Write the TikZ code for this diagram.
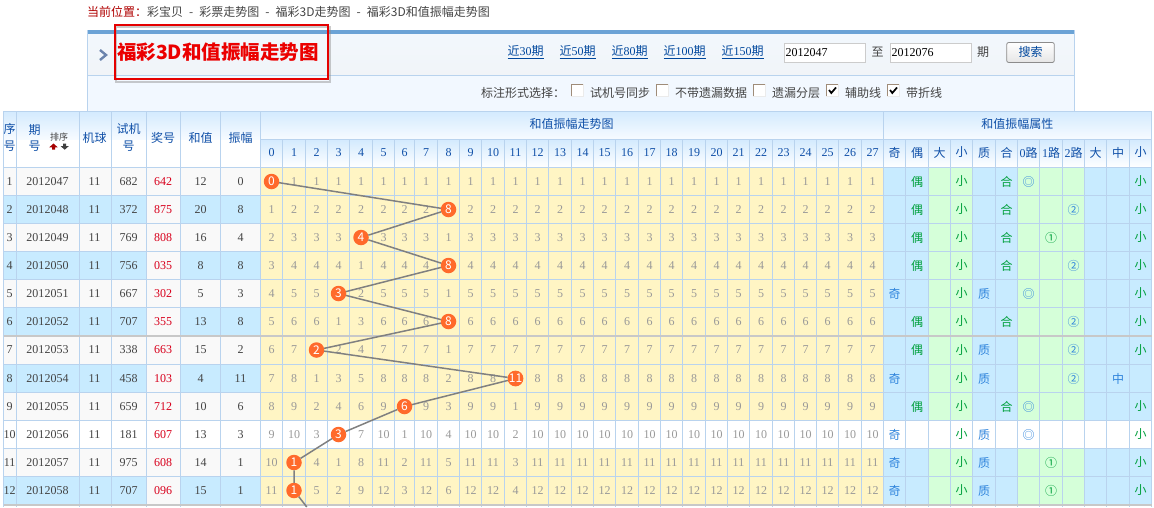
\documentclass[tikz,border=0pt]{standalone}
\usepackage{fontspec}
\setmainfont{Noto Sans CJK SC}
\newfontfamily\dg{Liberation Serif}
\definecolor{gridc}{HTML}{B9D3EE}
\definecolor{rowblue}{HTML}{C8EBFF}
\definecolor{rowgrey}{HTML}{F9F9F9}
\definecolor{attrgreen}{HTML}{D5FFD9}
\definecolor{cellyellow}{HTML}{FFF5C4}
\definecolor{headblue}{HTML}{1050A8}
\definecolor{linkblue}{HTML}{00479D}
\definecolor{txtgrey}{HTML}{444444}
\definecolor{numgrey}{HTML}{999999}
\definecolor{lotred}{HTML}{D8001C}
\definecolor{ballc}{HTML}{FF6A2B}
\definecolor{markblue}{HTML}{2F84DC}
\definecolor{markgreen}{HTML}{00A03C}
\definecolor{sepgrey}{HTML}{C8C8C8}
\definecolor{striptop}{HTML}{6BA3D6}
\definecolor{panela}{HTML}{F2F8FD}
\definecolor{panelb}{HTML}{F1F4F8}
\definecolor{panelc}{HTML}{F2F8FF}
\definecolor{heada}{HTML}{D3EAFE}
\definecolor{headb}{HTML}{F7FBFF}
\definecolor{chev}{HTML}{6B84AD}
\def\tx{{260.5,282.5,305.5,327.5,349.5,372.5,394.5,414.5,437.5,459.5,481.5,504.5,526.5,548.5,571.5,593.5,615.5,638.5,660.5,682.5,705.5,727.5,749.5,772.5,794.5,816.5,838.5,861.5,883.5}}
\def\ax{{883.5,905.5,928.5,950.5,972.5,995.5,1017.5,1039.5,1062.5,1084.5,1106.5,1129.5,1151.5}}
\def\ry{{167.5,195.5,223.5,251.5,279.5,307.5,335.5,364.5,392.5,420.5,448.5,476.5,504.5}}
% #1 = array, #2 = lower index, #3 = result macro: midpoint of entries #2 and #2+1
\newcommand{\midpt}[3]{%
  \pgfmathtruncatemacro\midn{#2+1}%
  \pgfmathsetmacro\mida{#1[#2]}%
  \pgfmathsetmacro\midb{#1[\midn]}%
  \pgfmathsetmacro#3{(\mida+\midb)/2}%
}
\def\attrtext#1{\ifcase#1 奇\or 偶\or\or 小\or 质\or 合\or ◎\or ①\or ②\or\or 中\or 小\fi}
\def\attrcol#1{\ifcase#1 markblue\or markgreen\or black\or markgreen\or markblue\or markgreen\or markblue\or markgreen\or markblue\or black\or markblue\or markgreen\fi}
\newcommand{\sepdash}{\hspace{6.1pt}-\hspace{6.1pt}}
\tikzset{
  x=1pt,y=-1pt,
  txt/.style={inner sep=0pt,outer sep=0pt,font=\fontsize{12}{12}\selectfont,text=txtgrey},
  head/.style={txt,text=headblue},
  num/.style={inner sep=0pt,outer sep=0pt,font=\dg\fontsize{12}{12}\selectfont,text=txtgrey},
  trendnum/.style={num,text=numgrey},
  link/.style={txt,text=linkblue,anchor=west},
  ball/.style={circle,fill=ballc,text=white,minimum size=15.5pt,inner sep=0pt,outer sep=0pt,font=\fontsize{12}{12}\selectfont},
  conn/.style={draw=black!50,line width=1.5pt},
  grid/.style={draw=gridc,line width=1pt},
}
\newcommand{\chk}[3]{% x, y, checked
  \fill[white] (#1,#2) rectangle ++(12,12);
  \draw[color=black!50!brown!60,line width=1.2pt] (#1+.5,#2+12) -- (#1+.5,#2+.5) -- (#1+12,#2+.5);
  \draw[color=black!8,line width=.8pt] (#1+12.5,#2) -- (#1+12.5,#2+12.5) -- (#1,#2+12.5);
  \ifnum#3=1 \draw[black,line width=1.7pt] (#1+3,#2+6) -- (#1+5.3,#2+9) -- (#1+10,#2+3.5);\fi
}
\begin{document}
\begin{tikzpicture}
\useasboundingbox (0,0) rectangle (1154,507);
\fill[white] (0,0) rectangle (1154,507);
% breadcrumb
\node[txt,anchor=west] (crumb) at (87,12) {\textcolor[HTML]{B00000}{当前位置：}彩宝贝\sepdash 彩票走势图\sepdash 福彩3D走势图\sepdash 福彩3D和值振幅走势图};
% top panel
\fill[top color=panela,bottom color=panelb] (87.5,34) rectangle (1074.5,75);
\fill[color=panelc] (87.5,75) rectangle (1074.5,111);
\fill[color=striptop] (87.5,30) rectangle (1074.5,34);
\draw[grid] (87.5,111) -- (87.5,30) (1074.5,30) -- (1074.5,111) (87.5,75.5) -- (1074.5,75.5);
\draw[color=chev,line width=2.4pt] (100,50) -- (106,55) -- (100,60);
% links
\node[link] (l30) at (507.7,52) {\underline{近{\dg 30}期}};
\node[link] (l50) at (559.7,52) {\underline{近{\dg 50}期}};
\node[link] (l80) at (611.7,52) {\underline{近{\dg 80}期}};
\node[link] (l100) at (663.7,52) {\underline{近{\dg 100}期}};
\node[link] (l150) at (721.7,52) {\underline{近{\dg 150}期}};
% inputs
\draw[draw=black!20,fill=white,line width=1pt] (784.5,43.5) rectangle (865.5,62);
\node[num,text=black,anchor=west] (from) at (785.5,52.5) {2012047};
\node[txt] (zhi) at (877.5,52) {至};
\draw[draw=black!20,fill=white,line width=1pt] (890.5,43.5) rectangle (971.5,62);
\node[num,text=black,anchor=west] (to) at (891.5,52.5) {2012076};
\node[txt] (qi) at (983,52) {期};
\draw[draw=black!45,top color=white,bottom color=black!10,line width=.8pt,rounded corners=2pt] (1006.7,42.5) rectangle (1054.3,62.5);
\node[txt,text=linkblue] (sea) at (1030.5,52) {搜索};
% option row
\node[txt,anchor=west] (optl) at (481,93) {标注形式选择：};
\chk{571}{84}{0}\node[txt,anchor=west] (o1) at (590,93) {试机号同步};
\chk{656}{84}{0}\node[txt,anchor=west] (o2) at (675,93) {不带遗漏数据};
\chk{753}{84}{0}\node[txt,anchor=west] (o3) at (772,93) {遗漏分层};
\chk{826}{84}{1}\node[txt,anchor=west] (o4) at (845,93) {辅助线};
\chk{887}{84}{1}\node[txt,anchor=west] (o5) at (906,93) {带折线};
% red title frame
\draw[color=black!45,line width=2pt,opacity=.45] (116,27) -- (329.5,27) -- (329.5,81.5) -- (116,81.5) -- cycle;
\draw[color=red!90!black,line width=2pt] (114.7,25.3) rectangle (327.5,79);
\node[txt,anchor=west,text=red!92!black,font=\bfseries\fontsize{19.5}{20}\selectfont] (title) at (117,52.3) {福彩3D和值振幅走势图};
% header fills
\fill[top color=heada,bottom color=headb] (3.5,111) rectangle (1151.5,139.5);
\fill[white] (3.5,139.5) rectangle (260.5,167.5);
\fill[top color=heada,bottom color=white] (260.5,139.5) rectangle (1151.5,167.5);
% row fills
\foreach \r/\lc/\tc/\ab/\ag/\zc in {0/rowgrey/cellyellow/rowblue/attrgreen/rowgrey,1/rowblue/cellyellow/rowblue/attrgreen/rowgrey,2/rowgrey/cellyellow/rowblue/attrgreen/rowgrey,3/rowblue/cellyellow/rowblue/attrgreen/rowgrey,4/rowgrey/cellyellow/rowblue/attrgreen/rowgrey,5/rowblue/cellyellow/rowblue/attrgreen/rowgrey,6/rowgrey/cellyellow/rowblue/attrgreen/rowgrey,7/rowblue/cellyellow/rowblue/attrgreen/rowgrey,8/rowgrey/cellyellow/rowblue/attrgreen/rowgrey,9/white/white/white/white/white,10/rowgrey/cellyellow/rowblue/attrgreen/rowgrey,11/rowblue/cellyellow/rowblue/attrgreen/rowgrey}{
  \pgfmathtruncatemacro\rn{\r+1}
  \pgfmathsetmacro\ya{\ry[\r]}
  \pgfmathsetmacro\yb{\ry[\rn]}
  \fill[color=\lc] (3.5,\ya) rectangle (260.5,\yb);
  \fill[color=\zc] (146.5,\ya) rectangle (180.5,\yb);
  \fill[color=\tc] (260.5,\ya) rectangle (883.5,\yb);
  \fill[color=\ab] (883.5,\ya) rectangle (928.5,\yb);
  \fill[color=\ag] (928.5,\ya) rectangle (972.5,\yb);
  \fill[color=\ab] (972.5,\ya) rectangle (1017.5,\yb);
  \fill[color=\ag] (1017.5,\ya) rectangle (1084.5,\yb);
  \fill[color=\ab] (1084.5,\ya) rectangle (1151.5,\yb);
}
% grid
\foreach \yy in {111,167.5,195.5,223.5,251.5,279.5,307.5,364.5,392.5,420.5,448.5,476.5}
  \draw[grid] (3.5,\yy) -- (1151.5,\yy);
\draw[grid] (260.5,139.5) -- (1151.5,139.5);
\foreach \xx in {3.5,16.5,79.5,111.5,146.5,180.5,220.5,260.5,883.5,1151.5}
  \draw[grid] (\xx,111) -- (\xx,507);
\foreach \i in {1,...,27}{
  \pgfmathsetmacro\xx{\tx[\i]}
  \draw[grid] (\xx,139.5) -- (\xx,507);
}
\foreach \i in {1,...,11}{
  \pgfmathsetmacro\xx{\ax[\i]}
  \draw[grid] (\xx,139.5) -- (\xx,507);
}
\draw[color=sepgrey,line width=2pt] (3.5,335.5) -- (1151.5,335.5) (3.5,505.2) -- (1151.5,505.2);
% header texts
\node[head] (h1a) at (9.7,129) {序};
\node[head] (h1b) at (9.7,146) {号};
\node[head] (h2a) at (34.5,130) {期};
\node[head] (h2b) at (34.5,146.5) {号};
\node[txt,font=\fontsize{9}{9}\selectfont] (sort) at (59,137) {排序};
\fill[color=red!65!black] (53.5,143.5) -- (57.7,147.3) -- (55,147.3) -- (55,149.5) -- (52,149.5) -- (52,147.3) -- (49.3,147.3) -- cycle;
\fill[color=black!75] (64.7,149.7) -- (60.5,146) -- (63.2,146) -- (63.2,143.7) -- (66.2,143.7) -- (66.2,146) -- (68.9,146) -- cycle;
\node[head] (h3) at (94.5,138) {机球};
\node[head] (h4a) at (128.5,129) {试机};
\node[head] (h4b) at (128.5,146.5) {号};
\node[head] (h5) at (163,138) {奖号};
\node[head] (h6) at (200.5,138) {和值};
\node[head] (h7) at (240.5,138) {振幅};
\node[head] (h8) at (571.7,124) {和值振幅走势图};
\node[head] (h9) at (1017.3,124) {和值振幅属性};
\foreach \i in {0,...,27}{
  \midpt{\tx}{\i}{\xc}
  \node[num,text=headblue] (t\i) at (\xc,152.5) {\i};
}
\foreach \i/\s in {0/奇,1/偶,2/大,3/小,4/质,5/合,6/{{\dg 0}路},7/{{\dg 1}路},8/{{\dg 2}路},9/大,10/中,11/小}{
  \midpt{\ax}{\i}{\xc}
  \node[head] (at\i) at (\xc,152.5) {\s};
}
% left columns
\foreach \r/\p/\q/\z/\he/\zf in {1/2012047/682/642/12/0,2/2012048/372/875/20/8,3/2012049/769/808/16/4,4/2012050/756/035/8/8,5/2012051/667/302/5/3,6/2012052/707/355/13/8,7/2012053/338/663/15/2,8/2012054/458/103/4/11,9/2012055/659/712/10/6,10/2012056/181/607/13/3,11/2012057/975/608/14/1,12/2012058/707/096/15/1}{
  \pgfmathtruncatemacro\rp{\r-1}
  \midpt{\ry}{\rp}{\yc}
  \node[num] (n\r) at (9.7,\yc) {\r};
  \node[num] (p\r) at (47.5,\yc) {\p};
  \node[num] (m\r) at (94.5,\yc) {11};
  \node[num] (q\r) at (128.5,\yc) {\q};
  \node[num,text=lotred] (z\r) at (163,\yc) {\z};
  \node[num] (s\r) at (200.5,\yc) {\he};
  \node[num] (f\r) at (240.5,\yc) {\zf};
}
% trend numbers (99 = ball cell)
\foreach \r/\lst in {
1/{99,1,1,1,1,1,1,1,1,1,1,1,1,1,1,1,1,1,1,1,1,1,1,1,1,1,1,1},
2/{1,2,2,2,2,2,2,2,99,2,2,2,2,2,2,2,2,2,2,2,2,2,2,2,2,2,2,2},
3/{2,3,3,3,99,3,3,3,1,3,3,3,3,3,3,3,3,3,3,3,3,3,3,3,3,3,3,3},
4/{3,4,4,4,1,4,4,4,99,4,4,4,4,4,4,4,4,4,4,4,4,4,4,4,4,4,4,4},
5/{4,5,5,99,2,5,5,5,1,5,5,5,5,5,5,5,5,5,5,5,5,5,5,5,5,5,5,5},
6/{5,6,6,1,3,6,6,6,99,6,6,6,6,6,6,6,6,6,6,6,6,6,6,6,6,6,6,6},
7/{6,7,99,2,4,7,7,7,1,7,7,7,7,7,7,7,7,7,7,7,7,7,7,7,7,7,7,7},
8/{7,8,1,3,5,8,8,8,2,8,8,99,8,8,8,8,8,8,8,8,8,8,8,8,8,8,8,8},
9/{8,9,2,4,6,9,99,9,3,9,9,1,9,9,9,9,9,9,9,9,9,9,9,9,9,9,9,9},
10/{9,10,3,99,7,10,1,10,4,10,10,2,10,10,10,10,10,10,10,10,10,10,10,10,10,10,10,10},
11/{10,99,4,1,8,11,2,11,5,11,11,3,11,11,11,11,11,11,11,11,11,11,11,11,11,11,11,11},
12/{11,99,5,2,9,12,3,12,6,12,12,4,12,12,12,12,12,12,12,12,12,12,12,12,12,12,12,12}}{
  \pgfmathtruncatemacro\rp{\r-1}
  \midpt{\ry}{\rp}{\yc}
  \foreach \v [count=\dd from 0] in \lst {
    \midpt{\tx}{\dd}{\xc}
    \ifnum\v=99\relax\else\node[trendnum] (c\r-\dd) at (\xc,\yc) {\v};\fi
  }
}
% attribute marks
\foreach \r/\ca/\cb/\cc/\cd in {1/1/5/6/11,2/1/5/8/11,3/1/5/7/11,4/1/5/8/11,5/0/4/6/11,6/1/5/8/11,7/1/4/8/11,8/0/4/8/10,9/1/5/6/11,10/0/4/6/11,11/0/4/7/11,12/0/4/7/11}{
  \pgfmathtruncatemacro\rp{\r-1}
  \midpt{\ry}{\rp}{\yc}
  \foreach \k in {\ca,3,\cb,\cc,\cd}{
    \midpt{\ax}{\k}{\xc}
    \edef\thecol{\attrcol{\k}}
    \node[txt,text=\thecol] (a\r-\k) at (\xc,\yc) {\attrtext{\k}};
  }
}
% balls
\foreach \r/\cc/\v in {1/0/0,2/8/8,3/4/4,4/8/8,5/3/3,6/8/8,7/2/2,8/11/11,9/6/6,10/3/3,11/1/1,12/1/1}{
  \pgfmathtruncatemacro\rp{\r-1}
  \midpt{\ry}{\rp}{\yc}
  \midpt{\tx}{\cc}{\xc}
  \node[ball] (b\r) at (\xc,\yc) {\v};
}
\coordinate (bend) at (306.8,507);
\draw[conn] (b1)--(b2) (b2)--(b3) (b3)--(b4) (b4)--(b5) (b5)--(b6) (b6)--(b7) (b7)--(b8) (b8)--(b9) (b9)--(b10) (b10)--(b11) (b11)--(b12) (b12)--(bend);
\end{tikzpicture}
\end{document}
